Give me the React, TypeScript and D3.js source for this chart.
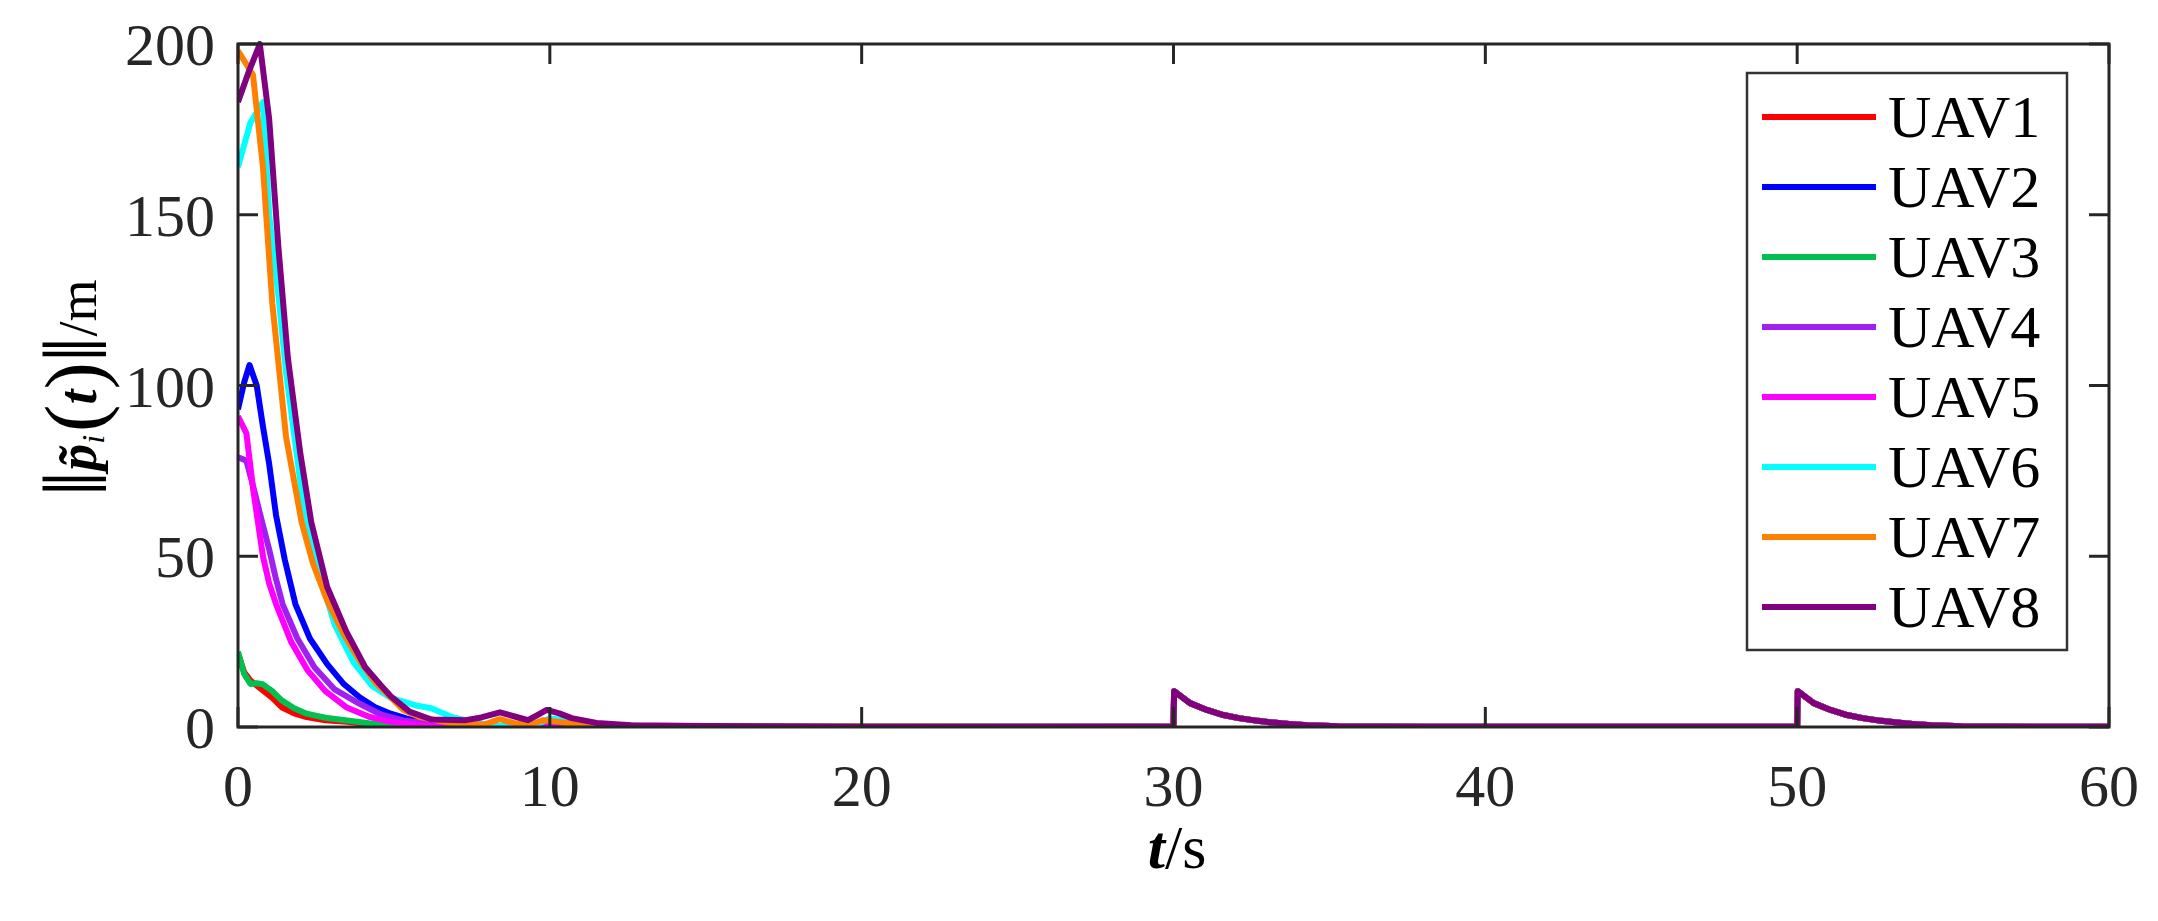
import React from 'react';
import * as d3 from 'd3';

// [t (s), ||p_i(t)|| (m)]
const uav1 = [[0, 21.5], [0.2, 16], [0.4, 13.6], [0.8, 10.7], [1.1, 8.5], [1.4, 5.8], [1.8, 4], [2.2, 2.9], [2.8, 2], [3.5, 1.5], [4.2, 0.8], [5, 0.4], [7, 0.1], [12, 0.05], [29.9, 0.05]];
const uav2 = [[0, 93], [0.2, 101], [0.37, 106], [0.6, 100], [0.8, 88], [1.0, 77], [1.22, 62], [1.5, 49], [1.84, 36], [2.3, 26], [2.86, 18.4], [3.4, 12.5], [3.9, 8.7], [4.4, 5.8], [4.9, 3.9], [5.4, 2.5], [5.9, 1.5], [7, 0.5], [9, 0.2], [29.9, 0.1]];
const uav3 = [[0, 22], [0.2, 15.5], [0.4, 12.6], [0.6, 12.8], [0.8, 12.5], [1.1, 10.5], [1.4, 7.8], [1.8, 5.5], [2.2, 3.9], [2.8, 2.7], [3.5, 1.9], [4.2, 1.1], [4.9, 0.5], [7, 0.2], [29.9, 0.1]];
const uav4 = [[0, 79], [0.27, 78], [0.5, 70], [0.69, 63], [1.0, 52], [1.2, 44], [1.43, 36], [1.9, 26], [2.45, 17.5], [3.1, 11], [3.9, 6.8], [4.6, 3.6], [5.3, 1.9], [6.5, 0.6], [8, 0.2], [29.9, 0.1]];
const uav5 = [[0, 91], [0.27, 86], [0.48, 70], [0.8, 50], [1.0, 42], [1.22, 36], [1.7, 25], [2.24, 16.5], [2.8, 10.5], [3.47, 5.8], [4.2, 3], [4.9, 1.5], [6, 0.5], [8, 0.2], [29.9, 0.1]];
const uav6 = [[0, 164], [0.4, 177], [0.8, 183], [1.0, 150], [1.3, 126], [1.54, 104], [2.08, 66], [2.6, 45], [3.1, 30], [3.7, 19], [4.3, 12], [4.9, 8.5], [5.7, 6.3], [6.2, 5.5], [6.9, 2.8], [7.9, 0.8], [8.4, 0.3], [9.5, 0.5], [10, 2.5], [10.5, 2], [11, 0.8], [13, 0.3], [29.9, 0.1]];
const uav7 = [[0, 198], [0.48, 191], [0.8, 164], [1.1, 124], [1.54, 85], [2.04, 60], [2.4, 48], [2.86, 37], [3.4, 27], [3.9, 19.4], [4.4, 13], [4.9, 8.7], [5.3, 5], [5.8, 3], [6.9, 1], [7.9, 0.7], [8.4, 2.3], [8.9, 1], [9.4, 0.8], [9.8, 2], [10.3, 1.5], [11, 0.5], [13, 0.3], [29.9, 0.1]];
const uav8 = [[0, 183], [0.35, 192], [0.7, 200], [1.0, 178], [1.3, 140], [1.6, 108], [2.0, 80], [2.35, 60], [2.86, 41], [3.47, 28], [4.08, 17.5], [4.55, 12.5], [4.9, 9], [5.5, 4.5], [6.2, 2.2], [7.3, 2], [7.8, 2.8], [8.4, 4.3], [8.9, 3], [9.3, 2], [9.6, 3.5], [9.9, 5], [10.3, 4], [10.7, 2.6], [11.5, 1.2], [12.6, 0.5], [15, 0.3], [20, 0.1], [29.9, 0.1]];

// jump after the formation change at t = 30 s and t = 50 s: [dt, value]
const jump = [[0, 0.1], [0.02, 10.5], [0.53, 7], [1.07, 5], [1.6, 3.5], [2.1, 2.6], [2.7, 1.8], [3.2, 1.3], [3.7, 0.9], [4.3, 0.5], [5.3, 0.2], [8, 0.05], [19.9, 0.05]];

const names = ['UAV1', 'UAV2', 'UAV3', 'UAV4', 'UAV5', 'UAV6', 'UAV7', 'UAV8'];
const colors = ['#ff0000', '#0000ff', '#00c050', '#a020f0', '#ff00ff', '#00ffff', '#ff8000', '#800080'];
const xTicks = [0, 10, 20, 30, 40, 50, 60];
const yTicks = [0, 50, 100, 150, 200];

const series = [uav1, uav2, uav3, uav4, uav5, uav6, uav7, uav8].map(s =>
  s.concat(jump.map(d => [30 + d[0], d[1]]), jump.map(d => [50 + d[0], d[1]]), [[60, 0.05]])
);

const W = 2158, H = 921;
const L = 238, R = 2109, T = 44, B = 727;
const font = '"Liberation Serif", "Times New Roman", serif';

export default function App() {
  const x = d3.scaleLinear().domain([0, 60]).range([L, R]);
  const y = d3.scaleLinear().domain([0, 200]).range([B, T]);
  const line = d3.line<number[]>().x(d => x(d[0])).y(d => y(d[1]));
  const axisColor = '#262626';
  const tick = 20;

  return (
    <div style={{ position: 'absolute', left: 0, top: 0 }}>
      <svg width={W} height={H} style={{ display: 'block', background: '#fff' }}>
        <defs>
          <clipPath id="plotClip">
            <rect x={L} y={T - 3} width={R - L} height={B - T + 3} />
          </clipPath>
        </defs>

        <g clipPath="url(#plotClip)">
          {series.map((s, i) => (
            <path key={i} d={line(s) || ''} fill="none" stroke={colors[i]} strokeWidth={6} strokeLinejoin="round" />
          ))}
        </g>

        {/* frame and ticks */}
        <rect x={L} y={T} width={R - L} height={B - T} fill="none" stroke={axisColor} strokeWidth={3} />
        {xTicks.map(t => (
          <g key={'x' + t}>
            <line x1={x(t)} x2={x(t)} y1={B} y2={B - tick} stroke={axisColor} strokeWidth={3} />
            <line x1={x(t)} x2={x(t)} y1={T} y2={T + tick} stroke={axisColor} strokeWidth={3} />
            <text x={x(t)} y={806} textAnchor="middle" fontFamily={font} fontSize={60} fill="#262626">{t}</text>
          </g>
        ))}
        {yTicks.map(v => (
          <g key={'y' + v}>
            <line x1={L} x2={L + tick} y1={y(v)} y2={y(v)} stroke={axisColor} strokeWidth={3} />
            <line x1={R} x2={R - tick} y1={y(v)} y2={y(v)} stroke={axisColor} strokeWidth={3} />
            <text x={215} y={y(v) + 21} textAnchor="end" fontFamily={font} fontSize={60} fill="#262626">{v}</text>
          </g>
        ))}

        {/* axis labels */}
        <text x={1177} y={868} textAnchor="middle" fontFamily={font} fontSize={62} fill="#000">
          <tspan fontWeight="bold" fontStyle="italic">t</tspan>
          <tspan>/s</tspan>
        </text>
        <text transform="translate(96,388) rotate(-90)" textAnchor="middle" fontFamily={font} fontSize={54} fill="#000">
          <tspan fontSize={92} dy={10}>‖</tspan>
          <tspan fontWeight="bold" fontStyle="italic" dy={-10}>p̃</tspan>
          <tspan fontStyle="italic" fontSize={32} dy={8}>i</tspan>
          <tspan dy={-2} dx={3} fontSize={82}>(</tspan>
          <tspan fontWeight="bold" fontStyle="italic" dy={-6}>t</tspan>
          <tspan fontSize={82} dy={6}>)</tspan>
          <tspan fontSize={92} dy={4}>‖</tspan>
          <tspan dy={-10}>/m</tspan>
        </text>

        {/* legend */}
        <rect x={1747} y={73} width={320} height={577} fill="#fff" stroke="#333" strokeWidth={2.5} />
        {names.map((n, i) => {
          const cy = 117 + i * 70;
          return (
            <g key={n}>
              <line x1={1762} x2={1876} y1={cy} y2={cy} stroke={colors[i]} strokeWidth={6} />
              <text x={1888} y={cy + 20} fontFamily={font} fontSize={60} fill="#000">{n}</text>
            </g>
          );
        })}
      </svg>
    </div>
  );
}
